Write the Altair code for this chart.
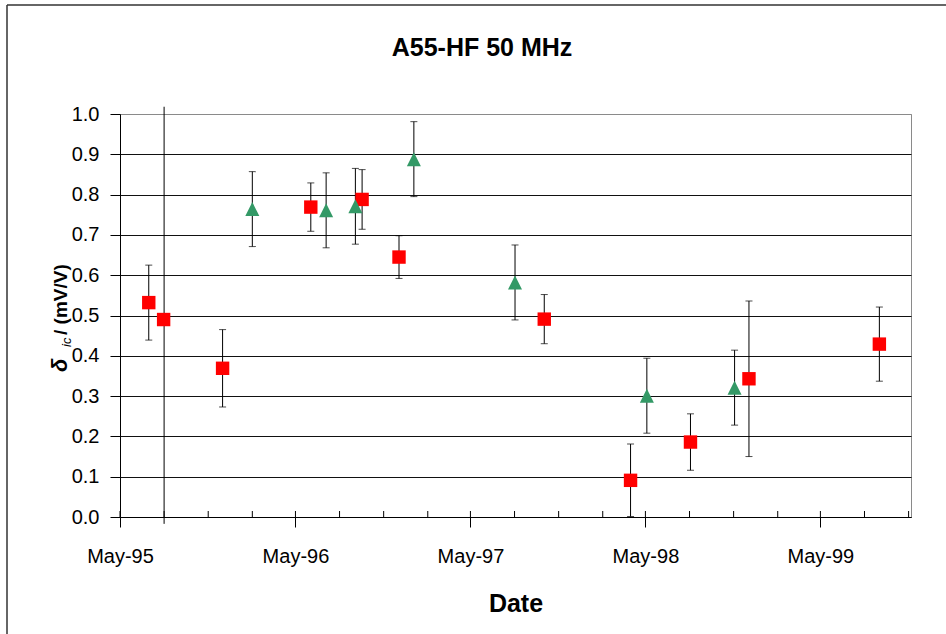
import altair as alt
import pandas as pd

# ---------------- data ----------------
sq_dates = ["1995-06-30", "1995-07-31", "1995-12-01", "1996-06-02", "1996-09-17",
            "1996-12-03", "1997-10-02", "1998-03-31", "1998-08-03", "1998-12-03",
            "1999-09-01"]
sq_vals = [0.532, 0.490, 0.369, 0.769, 0.788, 0.645, 0.491, 0.091, 0.186, 0.343, 0.429]
sq_errs = [0.093, None, 0.096, 0.060, 0.074, 0.053, 0.061, 0.090, 0.070, 0.193, 0.092]

tri_dates = ["1996-02-01", "1996-07-04", "1996-09-03", "1997-01-03", "1997-08-02",
             "1998-05-04", "1998-11-03"]
tri_vals = [0.764, 0.761, 0.771, 0.888, 0.582, 0.301, 0.321]
tri_errs = [0.093, 0.093, 0.094, 0.093, 0.093, 0.093, 0.093]

# vertical marker line (Aug-95)
vline_date = ["1995-08-01"]
vline_top = [1.018]
vline_bottom = [-0.017]

tick_years = [1995, 1996, 1997, 1998, 1999]
y_ticks = [0.0, 0.1, 0.2, 0.3, 0.4, 0.5, 0.6, 0.7, 0.8, 0.9, 1.0]
# quarterly minor tick dates
minor_ticks = [f"{y}-{m:02d}-01" for y in range(1995, 2000) for m in (2, 5, 8, 11)
               if "1995-05-01" <= f"{y}-{m:02d}-01" <= "1999-11-01"]

title_text = "A55-HF 50 MHz"
x_title = "Date"

# ---------------- tables ----------------
sq_df = pd.DataFrame({"date": sq_dates, "val": sq_vals, "err": sq_errs, "series": "sq"})
tri_df = pd.DataFrame({"date": tri_dates, "val": tri_vals, "err": tri_errs, "series": "tri"})
err_df = pd.concat([sq_df, tri_df]).dropna(subset=["err"]).copy()
err_df["lo"] = err_df["val"] - err_df["err"]
err_df["hi"] = err_df["val"] + err_df["err"]
vline_df = pd.DataFrame({"date": vline_date, "top": vline_top, "bottom": vline_bottom})
minor_df = pd.DataFrame({"date": minor_ticks})

FONT = "Liberation Sans"
W, H = 791, 403
PAD_L, PAD_T = 120, 114

xscale = alt.Scale(type="utc",
                   domain=[alt.DateTime(year=1995, month=5, date=1, utc=True),
                           alt.DateTime(year=1999, month=11, date=6, utc=True)])
yscale = alt.Scale(domain=[0, 1], nice=False, zero=False)

x_axis = alt.Axis(values=[alt.DateTime(year=y, month=5, date=1, utc=True) for y in tick_years],
                  labelExpr="utcFormat(datum.value, '%b-%y')", title=x_title, grid=False,
                  tickSize=10, labelPadding=19, titlePadding=25,
                  titleFontSize=25, titleFontWeight="bold", titleFont=FONT,
                  labelFlush=False, labelOverlap=False)
y_axis = alt.Axis(values=y_ticks, format=".1f", title=None, grid=True,
                  tickSize=10, labelPadding=11,
                  gridColor={"condition": {"test": "datum.value >= 1", "value": "#8a8a8a"},
                             "value": "#111111"})

# error bars
err_rule = alt.Chart(err_df).mark_rule(color="black", strokeWidth=1).encode(
    x=alt.X("date:T", scale=xscale, axis=x_axis),
    y=alt.Y("lo:Q", scale=yscale, axis=y_axis),
    y2="hi:Q",
)
cap_hi = alt.Chart(err_df).mark_tick(color="black", orient="horizontal", size=7, thickness=1).encode(
    x=alt.X("date:T", scale=xscale), y=alt.Y("hi:Q", scale=yscale))
cap_lo = alt.Chart(err_df).mark_tick(color="black", orient="horizontal", size=7, thickness=1).encode(
    x=alt.X("date:T", scale=xscale), y=alt.Y("lo:Q", scale=yscale))

vline = alt.Chart(vline_df).mark_rule(color="black", strokeWidth=1).encode(
    x=alt.X("date:T", scale=xscale), y=alt.Y("top:Q", scale=yscale), y2="bottom:Q")

minor = alt.Chart(minor_df).mark_rule(color="black", strokeWidth=1).encode(
    x=alt.X("date:T", scale=xscale), y=alt.value(H - 6), y2=alt.value(H))

squares = alt.Chart(sq_df).mark_point(shape="square", filled=True, opacity=1,
                                       color="#ff0000", size=180).encode(
    x=alt.X("date:T", scale=xscale), y=alt.Y("val:Q", scale=yscale))
triangles = alt.Chart(tri_df).mark_point(shape="M0,-1L1,1L-1,1Z", filled=True, opacity=1,
                                          color="#339966", size=196).encode(
    x=alt.X("date:T", scale=xscale), y=alt.Y("val:Q", scale=yscale))

one = alt.Data(values=[{}])

# chart title
title_mark = alt.Chart(one).mark_text(text=title_text, align="center", baseline="alphabetic",
                                      font=FONT, fontSize=25, fontWeight="bold",
                                      color="black").encode(x=alt.value(362), y=alt.value(-58))

# y-axis title built from pieces (italic delta with subscript)
yt1 = alt.Chart(one).mark_text(text="δ", angle=270, align="left", baseline="alphabetic",
                               font=FONT, fontSize=22, fontWeight="bold", fontStyle="italic",
                               color="black").encode(x=alt.value(-53), y=alt.value(258))
yt2 = alt.Chart(one).mark_text(text="ic", angle=270, align="left", baseline="alphabetic",
                               font=FONT, fontSize=13, fontStyle="italic",
                               color="black").encode(x=alt.value(-49), y=alt.value(233))
yt3 = alt.Chart(one).mark_text(text="/ (mV/V)", angle=270, align="left", baseline="alphabetic",
                               font=FONT, fontSize=19, fontWeight="bold",
                               color="black").encode(x=alt.value(-53), y=alt.value(221))

# outer chart frame (left and top edges visible)
frame_left = alt.Chart(one).mark_rule(color="#333333", strokeWidth=1.5).encode(
    x=alt.value(-113), y=alt.value(-109), y2=alt.value(H + 130))
frame_top = alt.Chart(one).mark_rule(color="#333333", strokeWidth=1.5).encode(
    x=alt.value(-113), x2=alt.value(W + 60), y=alt.value(-109))

chart = alt.layer(
    err_rule, cap_hi, cap_lo, vline, minor, squares, triangles,
    title_mark, yt1, yt2, yt3, frame_left, frame_top,
).properties(
    width=W, height=H,
    autosize=alt.AutoSizeParams(type="none"),
    padding={"left": PAD_L, "top": PAD_T, "right": 946 - PAD_L - W, "bottom": 634 - PAD_T - H},
    background="white",
).configure_axis(
    domainColor="black", tickColor="black", labelColor="black", titleColor="black",
    labelFont=FONT, labelFontSize=20, domainWidth=1, tickWidth=1, gridWidth=1,
).configure_view(stroke="#8a8a8a", strokeWidth=1)

chart.save("out.html", embed_options={"renderer": "svg", "actions": False})
